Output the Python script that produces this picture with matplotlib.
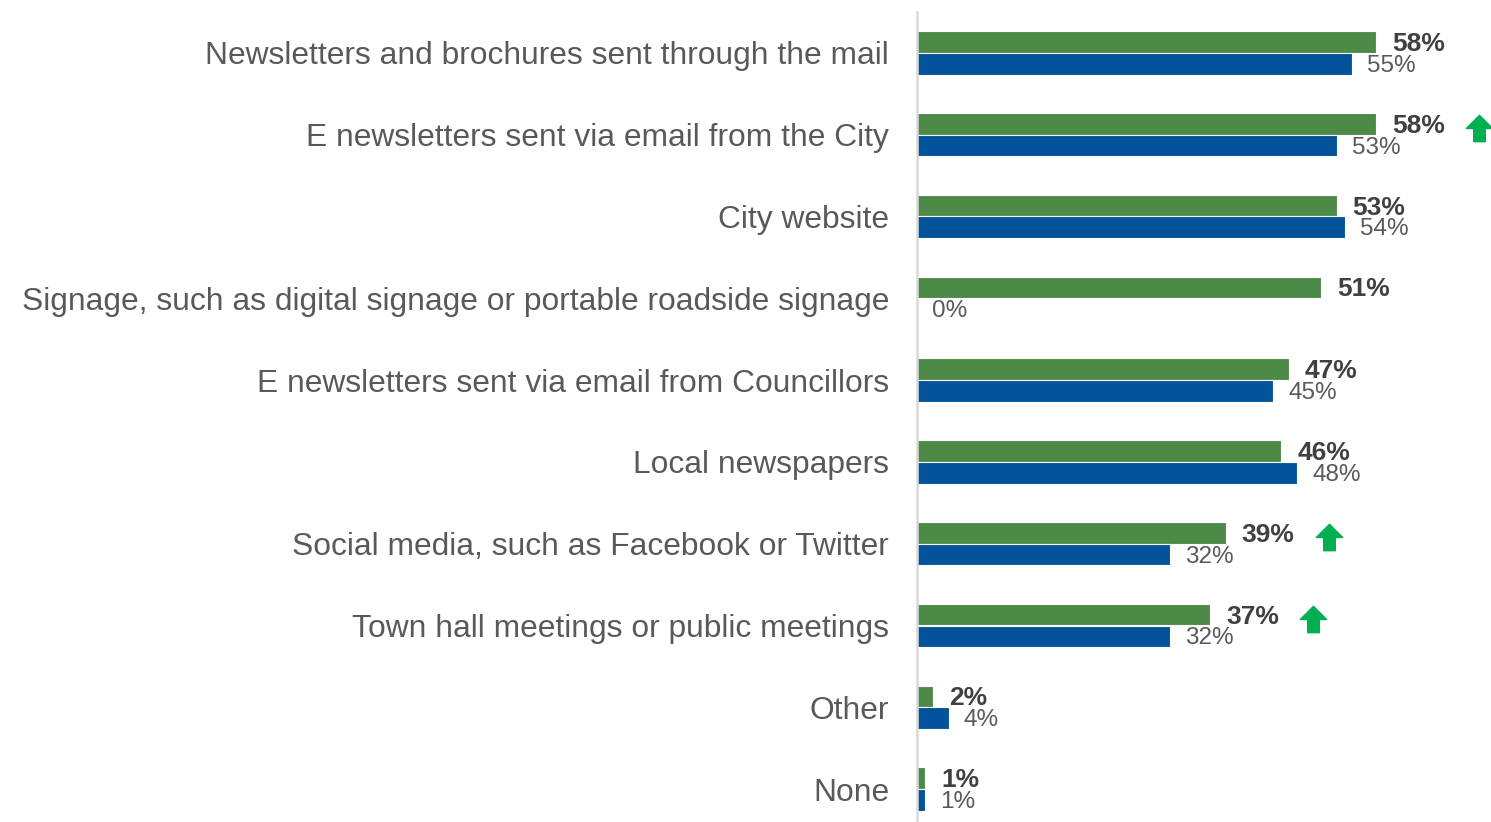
import numpy as np
import matplotlib.pyplot as plt
from matplotlib.path import Path

plt.rcParams['font.family'] = ['Liberation Sans', 'DejaVu Sans']

categories = [
    'Newsletters and brochures sent through the mail',
    'E newsletters sent via email from the City',
    'City website',
    'Signage, such as digital signage or portable roadside signage',
    'E newsletters sent via email from Councillors',
    'Local newspapers',
    'Social media, such as Facebook or Twitter',
    'Town hall meetings or public meetings',
    'Other',
    'None',
]
current = [58, 58, 53, 51, 47, 46, 39, 37, 2, 1]
previous = [55, 53, 54, 0, 45, 48, 32, 32, 4, 1]
up_arrow = [False, True, False, False, False, False, True, True, False, False]

green = '#4E8A47'
blue = '#02539A'

fig = plt.figure(figsize=(14.91, 8.22), dpi=100)
ax = fig.add_axes([917 / 1491, -8 / 822, 574 / 1491, 818 / 822])

y = np.arange(len(categories))
h = 0.265
ax.barh(y - h / 2, current, height=h, color=green, edgecolor='white', linewidth=0.8)
ax.barh(y + h / 2, previous, height=h, color=blue, edgecolor='white', linewidth=0.8)

ax.set_xlim(0, 72.5)
ax.set_ylim(len(categories) - 0.5, -0.5)

for i in y:
    ax.annotate(f'{current[i]}%', (current[i], i - h / 2), xytext=(16, -2),
                textcoords='offset pixels', va='center', ha='left',
                fontsize=19, fontweight='bold', color='#404040')
    ax.annotate(f'{previous[i]}%', (previous[i], i + h / 2), xytext=(15, -2),
                textcoords='offset pixels', va='center', ha='left',
                fontsize=17.5, color='#595959')

# up arrow marker
verts = [(-0.5, 0.0), (0.0, 0.5), (0.5, 0.0), (0.22, 0.0), (0.22, -0.5),
         (-0.22, -0.5), (-0.22, 0.0), (-0.5, 0.0)]
codes = [Path.MOVETO] + [Path.LINETO] * 6 + [Path.CLOSEPOLY]
arrow = Path(verts, codes)
for i in y:
    if up_arrow[i]:
        ax.plot(current[i] + 13, i - 0.08, marker=arrow, markersize=19,
                color='#00B050', clip_on=False)

ax.set_yticks(y)
ax.set_yticklabels(categories, fontsize=22.9, color='#595959')
ax.tick_params(axis='y', length=0, pad=20)
ax.set_xticks([])

for s in ['top', 'right', 'bottom']:
    ax.spines[s].set_visible(False)
ax.spines['left'].set_color('#D9D9D9')
ax.spines['left'].set_linewidth(1.8)

fig.savefig('out.png', dpi=100)
